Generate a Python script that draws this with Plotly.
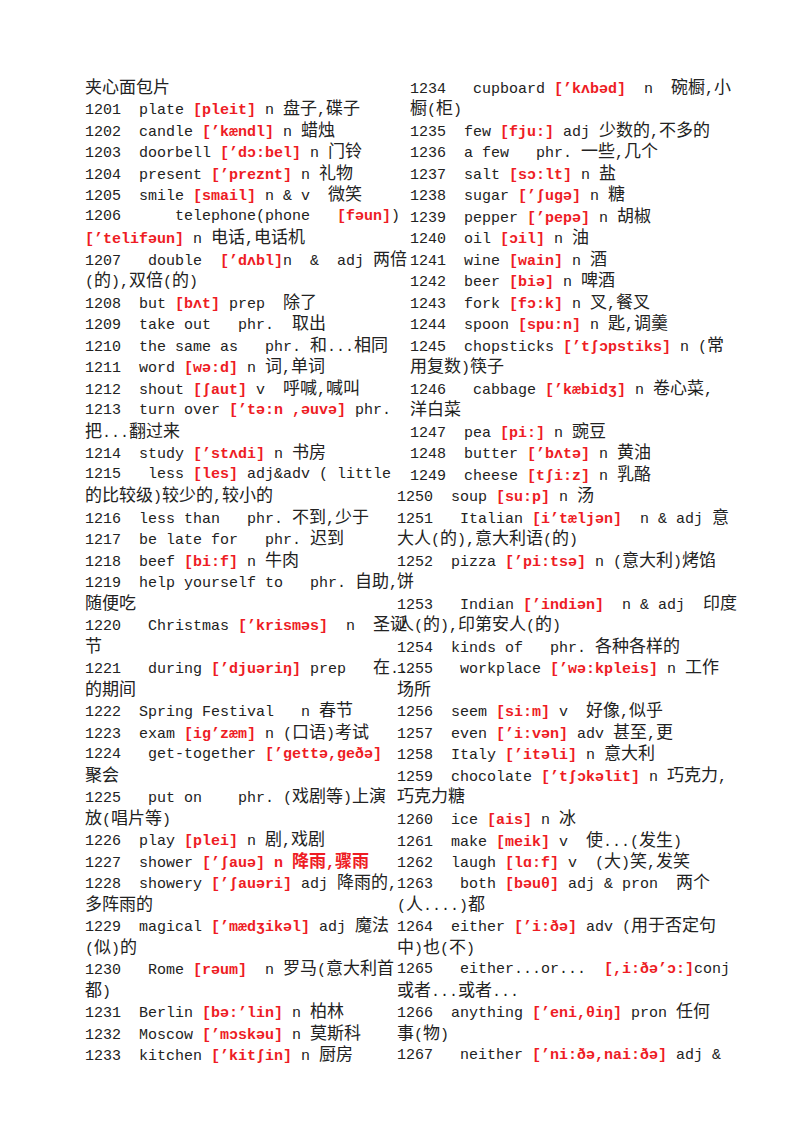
import re
import plotly.graph_objects as go

# vocabulary lines; text inside {} is shown red/bold (phonetics)
left_lines = [
    "夹心面包片",
    "1201  plate {[pleit]} n 盘子,碟子",
    "1202  candle {[’kændl]} n 蜡烛",
    "1203  doorbell {[’dɔ:bel]} n 门铃",
    "1204  present {[’preznt]} n 礼物",
    "1205  smile {[smail]} n & v  微笑",
    "1206      telephone(phone   {[fəun]})",
    "{[’telifəun]} n 电话,电话机",
    "1207   double  {[’dʌbl]}n  &  adj 两倍",
    "(的),双倍(的)",
    "1208  but {[bʌt]} prep  除了",
    "1209  take out   phr.  取出",
    "1210  the same as   phr. 和...相同",
    "1211  word {[wə:d]} n 词,单词",
    "1212  shout {[ʃaut]} v  呼喊,喊叫",
    "1213  turn over {[’tə:n ,əuvə]} phr.",
    "把...翻过来",
    "1214  study {[’stʌdi]} n 书房",
    "1215   less {[les]} adj&adv ( little",
    "的比较级)较少的,较小的",
    "1216  less than   phr. 不到,少于",
    "1217  be late for   phr. 迟到",
    "1218  beef {[bi:f]} n 牛肉",
    "1219  help yourself to   phr. 自助,",
    "随便吃",
    "1220   Christmas {[’krisməs]}  n  圣诞",
    "节",
    "1221   during {[’djuəriŋ]} prep   在...",
    "的期间",
    "1222  Spring Festival   n 春节",
    "1223  exam {[ig’zæm]} n (口语)考试",
    "1224   get-together {[’gettə,geðə]}",
    "聚会",
    "1225   put on    phr. (戏剧等)上演",
    "放(唱片等)",
    "1226  play {[plei]} n 剧,戏剧",
    "1227  shower {[’ʃauə] n 降雨,骤雨}",
    "1228  showery {[’ʃauəri]} adj 降雨的,",
    "多阵雨的",
    "1229  magical {[’mædʒikəl]} adj 魔法",
    "(似)的",
    "1230   Rome {[rəum]}  n 罗马(意大利首",
    "都)",
    "1231  Berlin {[bə:’lin]} n 柏林",
    "1232  Moscow {[’mɔskəu]} n 莫斯科",
    "1233  kitchen {[’kitʃin]} n 厨房",
]

right_lines = [
    "1234   cupboard {[’kʌbəd]}  n  碗橱,小",
    "橱(柜)",
    "1235  few {[fju:]} adj 少数的,不多的",
    "1236  a few   phr. 一些,几个",
    "1237  salt {[sɔ:lt]} n 盐",
    "1238  sugar {[’ʃugə]} n 糖",
    "1239  pepper {[’pepə]} n 胡椒",
    "1240  oil {[ɔil]} n 油",
    "1241  wine {[wain]} n 酒",
    "1242  beer {[biə]} n 啤酒",
    "1243  fork {[fɔ:k]} n 叉,餐叉",
    "1244  spoon {[spu:n]} n 匙,调羹",
    "1245  chopsticks {[’tʃɔpstiks]} n (常",
    "用复数)筷子",
    "1246   cabbage {[’kæbidʒ]} n 卷心菜,",
    "洋白菜",
    "1247  pea {[pi:]} n 豌豆",
    "1248  butter {[’bʌtə]} n 黄油",
    "1249  cheese {[tʃi:z]} n 乳酪",
    "1250  soup {[su:p]} n 汤",
    "1251   Italian {[i’tæljən]}  n & adj 意",
    "大人(的),意大利语(的)",
    "1252  pizza {[’pi:tsə]} n (意大利)烤馅",
    "饼",
    "1253   Indian {[’indiən]}  n & adj  印度",
    "人(的),印第安人(的)",
    "1254  kinds of   phr. 各种各样的",
    "1255   workplace {[’wə:kpleis]} n 工作",
    "场所",
    "1256  seem {[si:m]} v  好像,似乎",
    "1257  even {[’i:vən]} adv 甚至,更",
    "1258  Italy {[’itəli]} n 意大利",
    "1259  chocolate {[’tʃɔkəlit]} n 巧克力,",
    "巧克力糖",
    "1260  ice {[ais]} n 冰",
    "1261  make {[meik]} v  使...(发生)",
    "1262  laugh {[lɑ:f]} v  (大)笑,发笑",
    "1263   both {[bəuθ]} adj & pron  两个",
    "(人....)都",
    "1264  either {[’i:ðə]} adv (用于否定句",
    "中)也(不)",
    "1265   either...or...  {[,i:ðə’ɔ:]}conj",
    "或者...或者...",
    "1266  anything {[’eni,θiŋ]} pron 任何",
    "事(物)",
    "1267   neither {[’ni:ðə,nai:ðə]} adj &",
]

W, H = 800, 1132
TOP, STEP = 80, 21.49
RED = "#ee1c24"
CJK = re.compile(r"([\u3000-\u303f\u4e00-\u9fff\uff00-\uffef]+)")


def markup(line):
    # spaces -> nbsp first so the html tags keep their own spaces
    line = line.replace(" ", "\u00a0")
    out = []
    for i, seg in enumerate(re.split(r"[{}]", line)):
        seg = CJK.sub(r'<span style="font-size:17px">\1</span>', seg)
        if i % 2 == 1:
            seg = '<span style="color:%s"><b>%s</b></span>' % (RED, seg)
        out.append(seg)
    return "".join(out)


fig = go.Figure()
annotations = []
for col, lines in enumerate([left_lines, right_lines]):
    for i, line in enumerate(lines):
        if col == 0:
            x = 75
        else:
            x = 400 if i < 19 else 387
        annotations.append(dict(
            x=x / W, y=1 - (TOP + i * STEP) / H, xref="paper", yref="paper",
            xanchor="left", yanchor="middle", showarrow=False, align="left",
            text=markup(line),
            font=dict(family="Liberation Mono, Noto Sans CJK SC", size=15, color="#222"),
        ))

fig.update_layout(
    width=W, height=H, margin=dict(l=0, r=0, t=0, b=0),
    paper_bgcolor="white", plot_bgcolor="white",
    xaxis=dict(visible=False), yaxis=dict(visible=False),
    annotations=annotations,
)
fig.write_html("out.html")
